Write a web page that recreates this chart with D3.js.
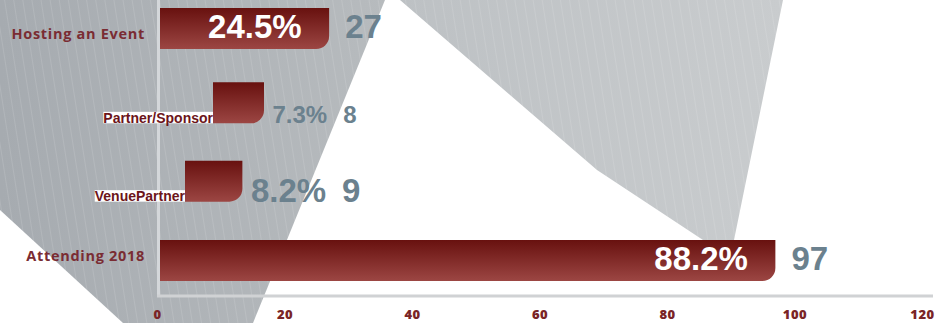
<!DOCTYPE html>
<html>
<head>
<meta charset="utf-8">
<script src="https://cdn.jsdelivr.net/npm/d3@7"></script>
<style>
  html, body { margin: 0; padding: 0; background: #ffffff; }
  svg { display: block; }
</style>
</head>
<body>
<svg id="chart" width="948" height="323"></svg>
<script>
// Survey responses: how people take part in the event
const categories = ["Hosting an Event", "Partner/Sponsor", "VenuePartner", "Attending 2018"];
const counts = [27, 8, 9, 97];
const shares = [24.5, 7.3, 8.2, 88.2];
const xTicks = [0, 20, 40, 60, 80, 100, 120];

// Per-row presentation tweaks (layout only)
const rowLayout = {
  "Hosting an Event": { inside: true,  nudge: 0,  shift: 0,  labelDy: 10,  font: 33 },
  "Partner/Sponsor":  { inside: false, nudge: -3, shift: 56, boxed: true,  font: 24 },
  "VenuePartner":     { inside: false, nudge: -2, shift: 28, boxed: true,  font: 33 },
  "Attending 2018":   { inside: true,  nudge: 0,  shift: 0,  labelDy: 0.5, font: 33 }
};

const W = 948, H = 323;
const svg = d3.select("#chart");
const defs = svg.append("defs");

// Backdrop gradients and pinstripe texture
const gLeft = defs.append("linearGradient").attr("id", "bgLeft")
  .attr("gradientUnits", "userSpaceOnUse").attr("x1", 0).attr("y1", 0).attr("x2", 385).attr("y2", 0);
gLeft.append("stop").attr("offset", 0).attr("stop-color", "#a6abb0");
gLeft.append("stop").attr("offset", 1).attr("stop-color", "#b7bbbe");

const gMid = defs.append("linearGradient").attr("id", "bgMid")
  .attr("gradientUnits", "userSpaceOnUse").attr("x1", 400).attr("y1", 0).attr("x2", 783).attr("y2", 0);
gMid.append("stop").attr("offset", 0).attr("stop-color", "#bdc1c4");
gMid.append("stop").attr("offset", 1).attr("stop-color", "#c9ccce");

const stripes = defs.append("pattern").attr("id", "stripes")
  .attr("patternUnits", "userSpaceOnUse").attr("width", 9).attr("height", 9)
  .attr("patternTransform", "rotate(-9)");
stripes.append("line").attr("x1", 4.5).attr("y1", 0).attr("x2", 4.5).attr("y2", 9)
  .attr("stroke", "#ffffff").attr("stroke-opacity", 0.15).attr("stroke-width", 0.8);

const barGrad = defs.append("linearGradient").attr("id", "barGrad")
  .attr("x1", 0).attr("y1", 0).attr("x2", 0).attr("y2", 1);
barGrad.append("stop").attr("offset", 0).attr("stop-color", "#68110f");
barGrad.append("stop").attr("offset", 1).attr("stop-color", "#9c4643");

// Decorative angular backdrop
const backdrop = svg.append("g");
const leftShape = [[0, 0], [385, 0], [253, 323], [123, 323], [0, 210]];
const midShape = [[400, 0], [783, 0], [734, 240], [730, 258], [703, 240], [597, 170]];
const line = d3.line();
[[leftShape, "url(#bgLeft)"], [midShape, "url(#bgMid)"]].forEach(([pts, fill]) => {
  backdrop.append("path").attr("d", line(pts) + "Z").attr("fill", fill);
  backdrop.append("path").attr("d", line(pts) + "Z").attr("fill", "url(#stripes)");
});

// Scales
const x = d3.scaleLinear().domain([0, 120]).range([157, 922]);
const y = d3.scalePoint().domain(categories).range([28.5, 260.5]);
const barH = 41;
const radius = 13;

const rows = categories.map((c, i) => {
  const L = rowLayout[c];
  const x0 = x(0) + L.shift;
  const x1 = x0 + (x(counts[i]) - x(0));
  const top = y(c) + L.nudge - barH / 2;
  return { cat: c, count: counts[i], share: shares[i], L, x0, x1, top, bottom: top + barH };
});

// Bars with a rounded lower-right corner
function barPath(d) {
  const r = Math.min(radius, d.x1 - d.x0);
  return `M${d.x0},${d.top}H${d.x1}V${d.bottom - r}A${r},${r} 0 0 1 ${d.x1 - r},${d.bottom}H${d.x0}Z`;
}
const barG = svg.append("g");
barG.selectAll("path").data(rows).join("path")
  .attr("d", barPath)
  .attr("fill", "url(#barGrad)");

// Axis lines
svg.append("line").attr("x1", 158.5).attr("x2", 158.5).attr("y1", 0).attr("y2", 296)
  .attr("stroke", "#d4d7da").attr("stroke-width", 3);
svg.append("line").attr("x1", 157).attr("x2", 933).attr("y1", 296).attr("y2", 296)
  .attr("stroke", "#d0d2d4").attr("stroke-width", 3);

// X axis tick labels
const axis = svg.append("g").attr("transform", "translate(0,296)")
  .call(d3.axisBottom(x).tickValues(xTicks).tickSize(0).tickFormat(d3.format("d")));
axis.select(".domain").remove();
axis.selectAll("text")
  .attr("y", 23.3).attr("dy", null)
  .attr("fill", "#7a2426")
  .style("font-family", "'Open Sans', sans-serif")
  .style("font-weight", 800)
  .style("font-size", "13px")
  .style("letter-spacing", "0.5px");

// Category labels
const labelG = svg.append("g");
rows.forEach(d => {
  if (d.L.boxed) {
    const t = labelG.append("text")
      .attr("x", d.x0).attr("y", d.bottom - 0.5)
      .attr("text-anchor", "end")
      .attr("fill", "#6c151a")
      .style("font-family", "'Liberation Sans', Arial, sans-serif")
      .style("font-weight", 700)
      .style("font-size", "14px")
      .text(d.cat);
    const bb = t.node().getBBox();
    labelG.insert("rect", () => t.node())
      .attr("x", bb.x).attr("y", d.bottom - 11.5)
      .attr("width", d.x0 - bb.x).attr("height", 11.5)
      .attr("fill", "#ffffff");
  } else {
    labelG.append("text")
      .attr("x", x(0) - 12).attr("y", y(d.cat) + d.L.labelDy)
      .attr("text-anchor", "end")
      .attr("fill", "#7a2c33")
      .style("font-family", "'Open Sans', sans-serif")
      .style("font-weight", 700)
      .style("font-size", "14.5px")
      .style("letter-spacing", "0.7px")
      .text(d.cat);
  }
});

// Value labels: share (%) and count
const valG = svg.append("g")
  .style("font-family", "'Liberation Sans', Arial, Helvetica, sans-serif")
  .style("font-weight", 700);
const pctFmt = v => v.toFixed(1) + "%";
rows.forEach(d => {
  const fs = d.L.font + "px";
  if (d.L.inside) {
    const base = d.bottom - 11.5;
    valG.append("text")
      .attr("x", d.x1 - 27.5).attr("y", base)
      .attr("text-anchor", "end").attr("fill", "#ffffff")
      .style("font-size", fs).text(pctFmt(d.share));
    valG.append("text")
      .attr("x", d.x1 + 16).attr("y", base)
      .attr("fill", "#6b818e")
      .style("font-size", fs).text(d.count);
  } else {
    const base = d.bottom;
    const p = valG.append("text")
      .attr("x", d.x1 + 8.5).attr("y", base)
      .attr("fill", "#6b818e")
      .style("font-size", fs).text(pctFmt(d.share));
    const w = p.node().getComputedTextLength();
    valG.append("text")
      .attr("x", d.x1 + 8.5 + w + 16).attr("y", base)
      .attr("fill", "#6b818e")
      .style("font-size", fs).text(d.count);
  }
});
</script>
</body>
</html>
